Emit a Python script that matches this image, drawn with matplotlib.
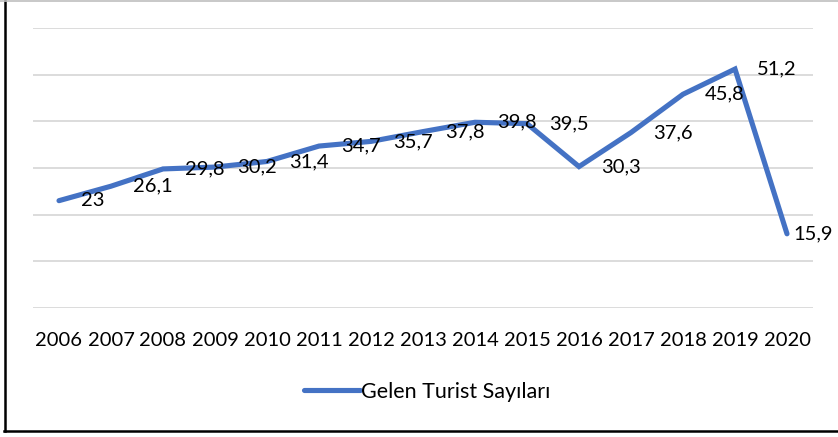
import matplotlib
matplotlib.use("Agg")
import matplotlib.pyplot as plt
from matplotlib.lines import Line2D

years = ["2006", "2007", "2008", "2009", "2010", "2011", "2012", "2013",
         "2014", "2015", "2016", "2017", "2018", "2019", "2020"]
values = [23, 26.1, 29.8, 30.2, 31.4, 34.7, 35.7, 37.8, 39.8, 39.5,
          30.3, 37.6, 45.8, 51.2, 15.9]
series_name = "Gelen Turist Sayıları"

W, H = 838, 437
plt.rcParams['font.family'] = ['Lato', 'DejaVu Sans']
fig = plt.figure(figsize=(W / 100, H / 100), dpi=100)
ax = fig.add_axes([33 / W, 1 - 308 / H, (813 - 33) / W, (308 - 28) / H])

x = list(range(len(years)))
line, = ax.plot(x, values, color="#4472C4", lw=3.7, solid_capstyle="round",
                solid_joinstyle="miter", label=series_name, zorder=3)

ax.set_xlim(-0.5, len(years) - 0.5)
ax.set_ylim(0, 60)
ax.set_yticks(range(0, 61, 10))
ax.yaxis.grid(True, color="#d9d9d9", lw=1.3)
ax.set_axisbelow(True)
ax.tick_params(axis="y", left=False, labelleft=False)
ax.tick_params(axis="x", bottom=False, labelsize=14.5, pad=14)
ax.set_xticks(x)
ax.set_xticklabels(years)
for s in ax.spines.values():
    s.set_visible(False)

for i, v in enumerate(values):
    dx = 6 if i == len(values) - 1 else 22
    ax.annotate(f"{v:g}".replace(".", ","), (i, v), xytext=(dx * 0.72, 0),
                textcoords="offset points", ha="left", va="center",
                fontsize=14.5, color="black", zorder=4)

fig.legend(handles=[line], labels=[series_name], loc="center",
           bbox_to_anchor=(427 / W, 1 - 392 / H), frameon=False,
           fontsize=15.5, handlelength=2.6, handletextpad=0.05)

# chart border
fig.add_artist(Line2D([4.5 / W, 4.5 / W], [1, 1 - 431 / H], color="black", lw=1.8,
                      transform=fig.transFigure))
fig.add_artist(Line2D([4 / W, 1], [1 - 431 / H, 1 - 431 / H], color="black", lw=1.8,
                      transform=fig.transFigure))
fig.add_artist(Line2D([0, 1], [1 - 0.5 / H, 1 - 0.5 / H], color="#bfbfbf", lw=1.2,
                      transform=fig.transFigure))

fig.savefig("out.png", dpi=100)
